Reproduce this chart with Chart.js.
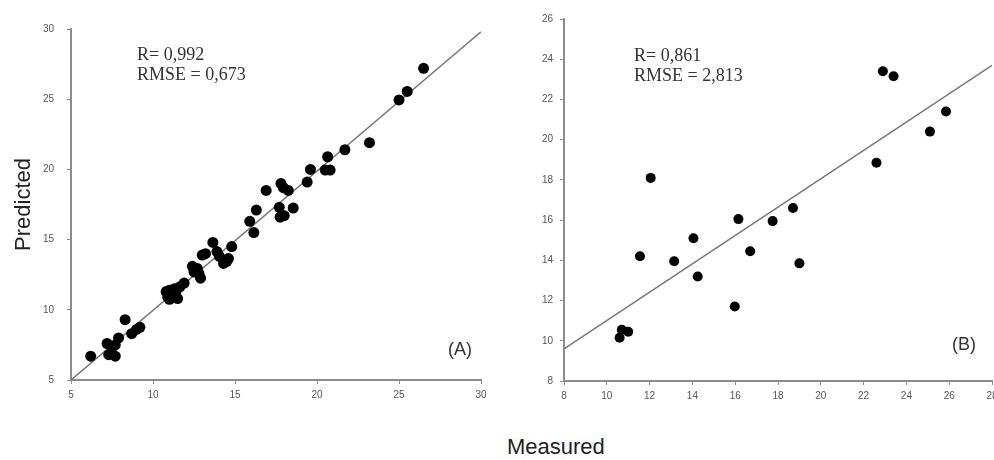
<!DOCTYPE html>
<html>
<head>
<meta charset="utf-8">
<script src="https://cdn.jsdelivr.net/npm/chart.js@4/dist/chart.umd.min.js"></script>
<style>
  body { margin: 0; background: #fff; width: 994px; height: 460px; position: relative; overflow: hidden; }
  canvas { position: absolute; top: 0; }
  #chartA { left: 0; }
  #chartB { left: 500px; }
  .stats { position: absolute; font-family: "Liberation Serif", "Times New Roman", serif; font-size: 18px; line-height: 20px; color: #333; white-space: nowrap; }
  .tag { position: absolute; font-family: "Liberation Sans", Arial, sans-serif; font-size: 18px; color: #333; }
  .title { position: absolute; font-family: "Liberation Sans", Arial, sans-serif; font-size: 22px; color: #222; }
</style>
</head>
<body>
<canvas id="chartA" width="520" height="420"></canvas>
<canvas id="chartB" width="494" height="420"></canvas>

<div class="stats" style="left:137px; top:44px;">R= 0,992<br>RMSE = 0,673</div>
<div class="stats" style="left:634px; top:45px;">R= 0,861<br>RMSE = 2,813</div>
<div class="tag" style="left:448px; top:339px;">(A)</div>
<div class="tag" style="left:952px; top:334px;">(B)</div>
<div class="title" style="left:507px; top:434px;">Measured</div>

<script>
// Panel A data (measured vs predicted)
const measuredA = [6.2, 7.2, 7.3, 7.5, 7.7, 7.9, 7.7, 8.3, 8.7, 9.0, 9.2,
  10.8, 10.9, 11.0, 11.2, 11.4, 11.5, 11.3, 11.65, 11.9, 11.0,
  12.4, 12.5, 12.7, 12.9, 12.8, 13.0, 13.2, 13.65, 13.9, 14.05, 14.3, 14.6, 14.8, 14.5,
  15.9, 16.15, 16.3, 16.9, 17.8, 17.95, 18.25, 17.7, 17.85, 17.75, 18.0, 18.55,
  19.4, 19.6, 20.5, 20.8, 20.65, 21.7, 23.2, 25.0, 25.5, 26.5];
const predictedA = [6.7, 7.6, 6.8, 7.3, 6.7, 8.0, 7.5, 9.3, 8.3, 8.6, 8.75,
  11.3, 10.9, 11.4, 10.9, 11.3, 10.8, 11.5, 11.65, 11.9, 10.75,
  13.1, 12.7, 12.95, 12.25, 12.6, 13.9, 14.0, 14.8, 14.15, 13.8, 13.3, 13.65, 14.5, 13.45,
  16.3, 15.5, 17.1, 18.5, 19.0, 18.7, 18.5, 17.3, 16.7, 16.6, 16.7, 17.25,
  19.1, 20.0, 19.95, 19.95, 20.9, 21.4, 21.9, 24.95, 25.55, 27.2];
const fitAx = [5, 30];
const fitAy = [5, 29.8];

// Panel B data
const measuredB = [10.6, 10.7, 11.0, 11.55, 12.05, 13.15, 14.05, 14.25, 15.98, 16.15,
  16.7, 17.75, 18.7, 19.0, 22.6, 22.9, 23.4, 25.1, 25.85];
const predictedB = [10.15, 10.55, 10.45, 14.2, 18.1, 13.95, 15.1, 13.2, 11.7, 16.05,
  14.45, 15.95, 16.6, 13.85, 18.85, 23.4, 23.15, 20.4, 21.4];
const fitBx = [8, 28];
const fitBy = [9.6, 23.7];

// axis ranges
const axisA = { min: 5, max: 30, step: 5 };
const axisBx = { min: 8, max: 28, step: 2 };
const axisBy = { min: 8, max: 26, step: 2 };

const toPoints = (xs, ys) => xs.map((x, i) => ({ x: x, y: ys[i] }));

function makeAxis(range, opts) {
  return {
    type: 'linear',
    min: range.min,
    max: range.max,
    ticks: {
      stepSize: range.step,
      color: '#555',
      padding: opts.padding,
      maxRotation: 0,
      autoSkip: false,
      font: { family: 'Liberation Sans', size: 10 }
    },
    grid: { drawOnChartArea: false, drawTicks: true, tickLength: 4, color: '#8c8c8c' },
    border: { color: '#8c8c8c', width: 2 },
    title: opts.title || { display: false },
    afterFit: opts.afterFit
  };
}

function makeChart(id, pts, fit, radius, xAxis, yAxis, padding) {
  return new Chart(document.getElementById(id).getContext('2d'), {
    type: 'scatter',
    data: {
      datasets: [
        {
          data: pts,
          backgroundColor: '#000',
          borderWidth: 0,
          pointRadius: radius,
          order: 0
        },
        {
          data: fit,
          showLine: true,
          borderColor: '#777',
          borderWidth: 1.5,
          pointRadius: 0,
          order: 1
        }
      ]
    },
    options: {
      responsive: false,
      animation: false,
      layout: { padding: padding, autoPadding: false },
      plugins: { legend: { display: false }, tooltip: { enabled: false } },
      scales: { x: xAxis, y: yAxis }
    }
  });
}

// Chart A
makeChart('chartA', toPoints(measuredA, predictedA), toPoints(fitAx, fitAy), 5.5,
  makeAxis(axisA, {
    padding: 5,
    afterFit: s => { s.height = 40; s.paddingLeft = 0; s.paddingRight = 0; }
  }),
  makeAxis(axisA, {
    padding: 13,
    title: { display: true, text: 'Predicted', color: '#222', padding: { top: 11, bottom: 0 },
      font: { family: 'Liberation Sans', size: 22 } },
    afterFit: s => { s.width = 71; }
  }),
  { left: 0, top: 29, right: 39, bottom: 0 });

// Chart B
makeChart('chartB', toPoints(measuredB, predictedB), toPoints(fitBx, fitBy), 5,
  makeAxis(axisBx, {
    padding: 5,
    afterFit: s => { s.height = 39; s.paddingLeft = 0; s.paddingRight = 0; }
  }),
  makeAxis(axisBy, {
    padding: 7,
    afterFit: s => { s.width = 64; }
  }),
  { left: 0, top: 19, right: 2, bottom: 0 });
</script>
</body>
</html>
